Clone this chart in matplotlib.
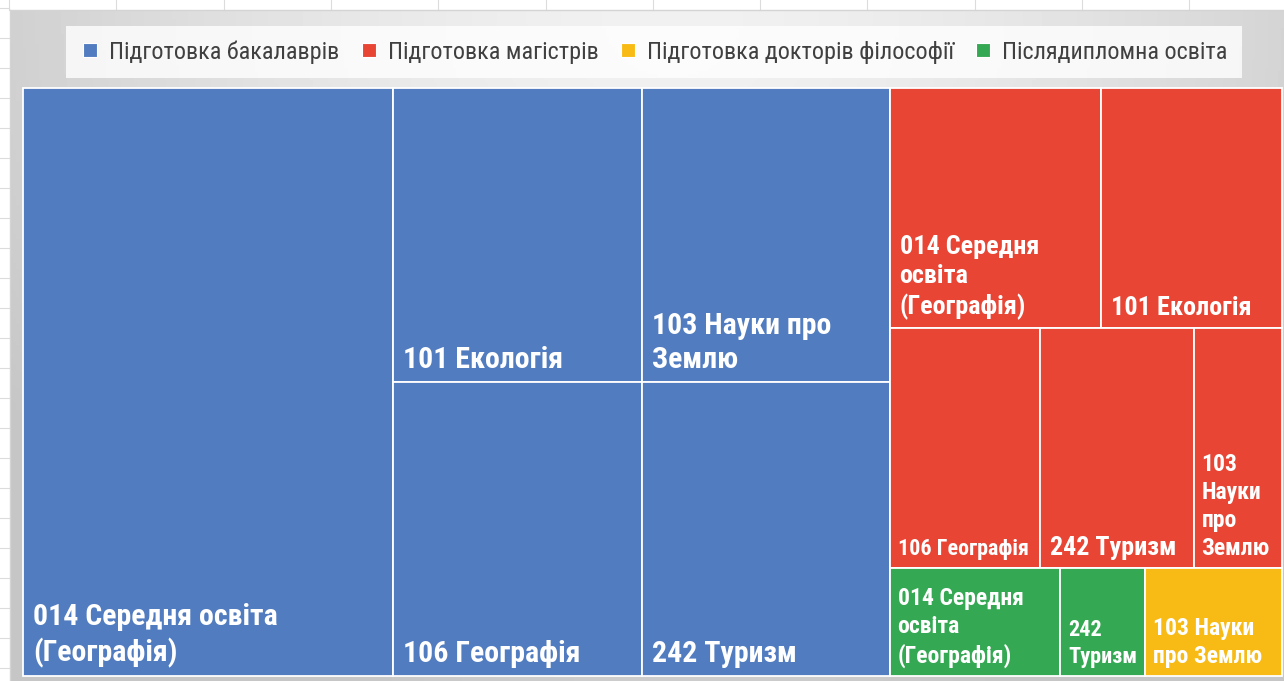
import numpy as np
import matplotlib
matplotlib.use("Agg")
import matplotlib.pyplot as plt
from matplotlib.patches import Rectangle
from matplotlib.lines import Line2D
from matplotlib import font_manager

# ---------------- data ----------------
series_names = ["Підготовка бакалаврів", "Підготовка магістрів",
                "Підготовка докторів філософії", "Післядипломна освіта"]

bachelor_cats = ["014 Середня освіта (Географія)", "101 Екологія",
                 "103 Науки про Землю", "106 Географія", "242 Туризм"]
bachelor_vals = [236, 79, 79, 79, 79]

master_cats = ["014 Середня освіта (Географія)", "101 Екологія",
               "106 Географія", "242 Туризм", "103 Науки про Землю"]
master_vals = [55, 47, 39, 40, 23]

phd_cats = ["103 Науки про Землю"]
phd_vals = [16]

postgrad_cats = ["014 Середня освіта (Географія)", "242 Туризм"]
postgrad_vals = [20, 10]

# ---------------- style ----------------
names = {f.name for f in font_manager.fontManager.ttflist}
FONT, FS, LS, LEGFS = ["Liberation Sans", "DejaVu Sans"], 0.84, 1.42, 18.4
for cand in ["Liberation Sans Narrow", "Arial Narrow", "Roboto Condensed",
             "Noto Sans Condensed", "Open Sans Condensed"]:
    if cand in names:
        FONT, FS, LS, LEGFS = [cand, "DejaVu Sans"], 1.0, 1.28, 17.4
        break
plt.rcParams["font.family"] = FONT

colors = ["#517CC0", "#E84535", "#F8BB16", "#35A853"]

# label wrapping / size per tile (style only)
label_style = {
    "Підготовка бакалаврів": {
        "014 Середня освіта (Географія)": ("014 Середня освіта\n(Географія)", 21.5),
        "101 Екологія": ("101 Екологія", 21.5),
        "103 Науки про Землю": ("103 Науки про\nЗемлю", 21.5),
        "106 Географія": ("106 Географія", 21.5),
        "242 Туризм": ("242 Туризм", 21.5),
    },
    "Підготовка магістрів": {
        "014 Середня освіта (Географія)": ("014 Середня\nосвіта\n(Географія)", 18.8),
        "101 Екологія": ("101 Екологія", 18.8),
        "106 Географія": ("106 Географія", 15.8),
        "242 Туризм": ("242 Туризм", 18.8),
        "103 Науки про Землю": ("103\nНауки\nпро\nЗемлю", 17),
    },
    "Підготовка докторів філософії": {
        "103 Науки про Землю": ("103 Науки\nпро Землю", 17),
    },
    "Післядипломна освіта": {
        "014 Середня освіта (Географія)": ("014 Середня\nосвіта\n(Географія)", 17),
        "242 Туризм": ("242\nТуризм", 16),
    },
}


def worst(row, length):
    s = sum(row)
    return max(max(length ** 2 * r / s ** 2, s ** 2 / (length ** 2 * r)) for r in row)


def squarify(areas, x, y, w, h):
    rects = []
    i = 0
    while i < len(areas):
        short = min(w, h)
        row = [areas[i]]
        i += 1
        while i < len(areas) and worst(row + [areas[i]], short) <= worst(row, short):
            row.append(areas[i])
            i += 1
        s = sum(row)
        if w >= h:
            cw = s / h
            yy = y
            for a in row:
                rh = a / cw
                rects.append((x, yy, cw, rh))
                yy += rh
            x += cw
            w -= cw
        else:
            rh = s / w
            xx = x
            for a in row:
                rw = a / rh
                rects.append((xx, y, rw, rh))
                xx += rw
            y += rh
            h -= rh
    return rects


FW, FH = 1284, 681
fig = plt.figure(figsize=(FW / 100, FH / 100), dpi=100)
fig.patch.set_facecolor("white")

# faint spreadsheet grid in the white margin
for k in range(13):
    xg = 9 + 107.3 * k
    fig.add_artist(Line2D([xg / FW, xg / FW], [1 - 10 / FH, 1], color="#dcdcdc", lw=0.8))
for k in range(23):
    yg = 8 + 30 * k
    fig.add_artist(Line2D([0, 9 / FW], [1 - yg / FH, 1 - yg / FH], color="#dcdcdc", lw=0.8))

# gradient chart background
bg = fig.add_axes([10 / FW, 0, (FW - 10) / FW, (FH - 10) / FH])
gx = np.linspace(0, 1, 400)
gy = np.linspace(0, 1, 220)
X, Y = np.meshgrid(gx, gy)
d = np.sqrt(((X - 0.52) / 0.62) ** 2 + ((Y - 0.0) / 1.1) ** 2)
val = 0.945 - 0.17 * np.clip(d, 0, 1) ** 1.6
bg.imshow(val, cmap="gray", vmin=0, vmax=1, aspect="auto", extent=(0, 1, 1, 0))
bg.set_xlim(0, 1)
bg.set_ylim(1, 0)
bg.axis("off")
fig.add_artist(Line2D([10 / FW, 1], [1 - 10 / FH, 1 - 10 / FH], color="#d4d4d4", lw=1.0))
fig.add_artist(Line2D([10 / FW, 10 / FW], [0, 1 - 10 / FH], color="#d4d4d4", lw=1.0))

# treemap axes
PW, PH = 1259, 588
ax = fig.add_axes([23 / FW, 5 / FH, PW / FW, PH / FH])
ax.set_xlim(0, PW)
ax.set_ylim(PH, 0)
ax.axis("off")

groups = [
    (series_names[0], bachelor_cats, bachelor_vals, colors[0]),
    (series_names[1], master_cats, master_vals, colors[1]),
    (series_names[2], phd_cats, phd_vals, colors[2]),
    (series_names[3], postgrad_cats, postgrad_vals, colors[3]),
]
order = sorted(range(len(groups)), key=lambda g: -sum(groups[g][2]))
totals = [sum(groups[g][2]) for g in order]
scale = PW * PH / sum(totals)
grects = squarify([t * scale for t in totals], 0, 0, PW, PH)

for g, gr in zip(order, grects):
    gname, cats, vals, col = groups[g]
    rects = squarify([v * scale for v in vals], *gr)
    for cat, (x, y, w, h) in zip(cats, rects):
        ax.add_patch(Rectangle((x, y), w, h, facecolor=col, edgecolor="white",
                               lw=1.3, clip_on=False))
        txt, fs = label_style[gname][cat]
        padx = 10 if fs > 17.5 else 8
        ax.text(x + padx, y + h - 8, txt, ha="left", va="bottom", color="white",
                fontsize=fs * FS, fontweight="bold", linespacing=LS)

# legend
handles = [Line2D([], [], marker="s", linestyle="none", markersize=10.5,
                  markerfacecolor=c, markeredgecolor="white", markeredgewidth=0.8)
           for c in colors]
leg = fig.legend(handles, series_names, loc="center", ncol=4,
                 bbox_to_anchor=(654 / FW, 1 - 52 / FH), frameon=True,
                 fancybox=False, handlelength=0.8, handletextpad=0.4,
                 columnspacing=0.8, borderpad=0.6, prop={"size": LEGFS})
leg.get_frame().set_facecolor((1, 1, 1, 0.3))
leg.get_frame().set_edgecolor("none")
for t in leg.get_texts():
    t.set_color("#404040")

fig.savefig("out.png", dpi=100, facecolor="white")
